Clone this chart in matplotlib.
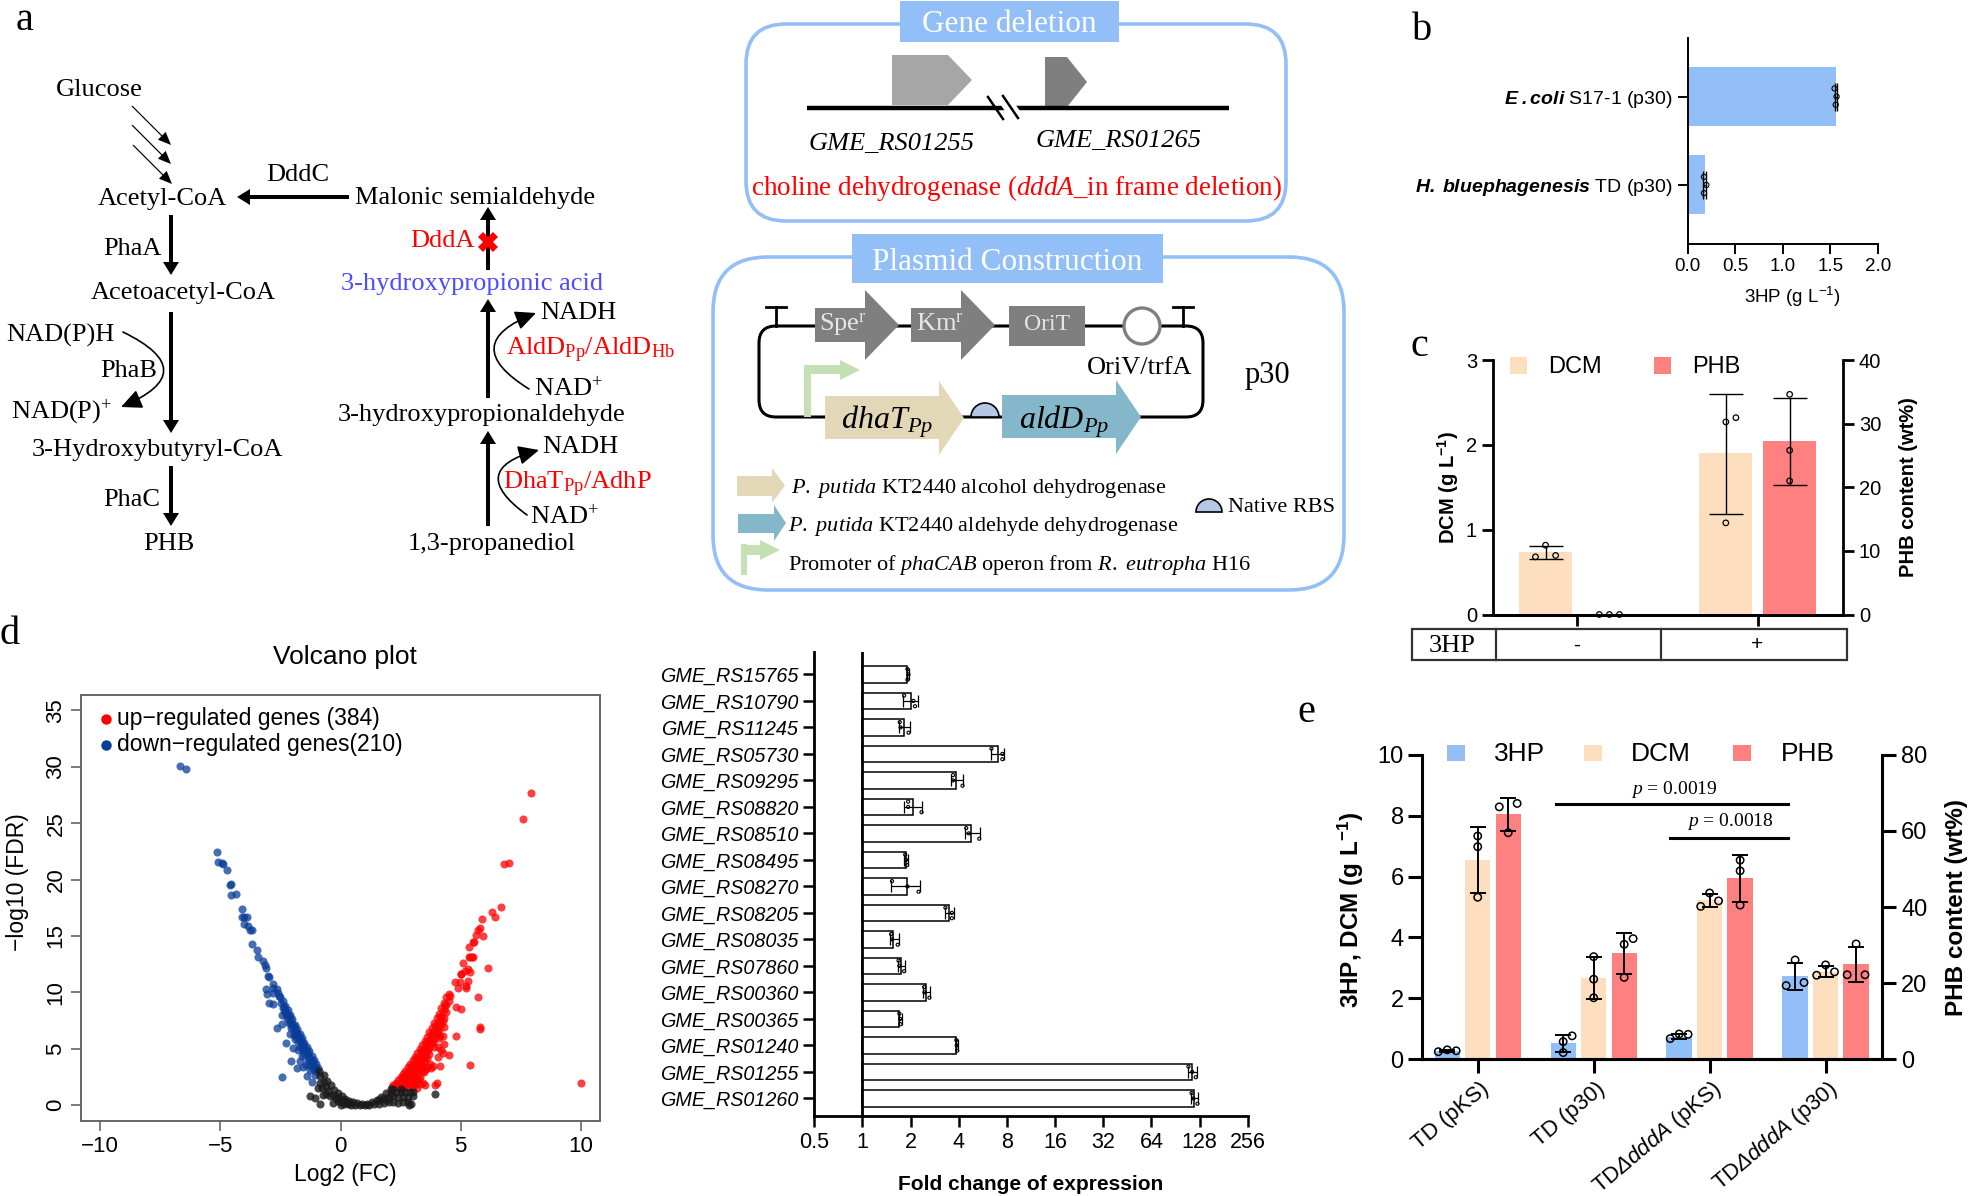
import matplotlib
matplotlib.use('Agg')
import matplotlib.pyplot as plt
from matplotlib.patches import FancyBboxPatch, Polygon, Rectangle, Wedge, Circle

plt.rcParams['font.family'] = ['Liberation Sans', 'DejaVu Sans']
plt.rcParams['mathtext.fontset'] = 'custom'
plt.rcParams['mathtext.rm'] = 'Liberation Serif'
plt.rcParams['mathtext.it'] = 'Liberation Serif:italic'
plt.rcParams['mathtext.bf'] = 'Liberation Serif:bold'
plt.rcParams['mathtext.sf'] = 'Liberation Sans:italic'
plt.rcParams['mathtext.bfit'] = 'Liberation Sans:italic:bold'
plt.rcParams['mathtext.default'] = 'regular'

W, H = 1973, 1196
BLUE = '#93bff9'
TAN = '#fddfc0'
PINK = '#ff8080'

# panel b
b_labels = [r'$\mathbfit{H.\ bluephagenesis}$ TD (p30)', r'$\mathbfit{E\ .coli}$ S17-1 (p30)']
b_means = [0.185, 1.56]
b_lo = [0.165, 1.544]
b_hi = [0.197, 1.566]
b_pts = [[0.172, 0.197, 0.172], [1.544, 1.565, 1.556]]

# panel c
c_dcm = [0.74, 1.90]
c_dcm_lo = [0.655, 1.19]
c_dcm_hi = [0.807, 2.60]
c_dcm_pts = [[(0, 0.817), (-1, 0.68), (1, 0.696)], [(0, 2.27), (1, 2.32), (0, 1.08)]]
c_phb = [0, 27.2]
c_phb_lo = [0, 20.3]
c_phb_hi = [0, 34.0]
c_phb_pts = [[(-1, 0), (0, 0), (1, 0)], [(0, 34.6), (0, 25.8), (0, 21.0)]]

# panel d, volcano (log2 FC, -log10 FDR)
down_points = [
    (-6.66, 30.07), (-6.45, 29.77), (-5.13, 22.41), (-5.08, 21.56), (-4.93, 21.47), (-4.87, 21.37),
    (-4.74, 20.88), (-4.59, 19.51), (-4.54, 19.64), (-4.54, 18.66), (-4.36, 18.73), (-4.11, 17.39),
    (-4.11, 16.71), (-4.0, 16.71), (-3.91, 16.65), (-4.03, 16.03), (-3.85, 15.9), (-3.78, 15.57),
    (-3.70, 15.54), (-3.68, 14.27), (-3.49, 13.78), (-3.42, 13.13), (-3.21, 12.74), (-3.13, 12.41),
    (-3.09, 12.18), (-3.01, 11.43), (-2.99, 11.4), (-2.80, 10.78), (-3.08, 10.29), (-2.83, 10.36),
    (-2.66, 10.29), (-3.04, 9.87), (-2.83, 9.97), (-2.6, 9.97), (-2.96, 9.02), (-2.8, 8.99),
    (-2.55, 9.64), (-2.47, 9.09), (-2.39, 8.66), (-2.32, 8.31), (-2.42, 8.01), (-2.42, 7.2),
    (-2.63, 6.81), (-2.22, 7.69), (-2.14, 7.26), (-2.04, 6.87), (-2.09, 6.3), (-2.25, 5.5),
    (-1.96, 5.08), (-1.75, 4.9), (-1.68, 3.9), (-1.80, 3.3), (-2.04, 3.94), (-2.42, 2.51),
    (-1.38, 2.6), (-1.2, 2.1), (-1.9, 5.9), (-1.6, 4.4), (-1.45, 3.6), (-1.55, 3.4),
    (-2.5, 9.6), (-2.4, 9.2), (-2.3, 8.8), (-2.2, 8.4), (-2.1, 8.0), (-2.0, 7.6), (-1.9, 7.15),
    (-1.8, 6.75), (-1.7, 6.35), (-1.6, 5.95), (-1.5, 5.55), (-1.4, 5.2), (-1.3, 4.8), (-1.2, 4.4),
    (-1.1, 4.0), (-1.0, 3.65), (-0.95, 3.3), (-2.3, 8.2), (-2.2, 7.8), (-2.1, 7.4), (-2.0, 7.0),
    (-1.9, 6.6), (-1.8, 6.2), (-1.7, 5.8), (-1.6, 5.4), (-1.5, 5.0), (-1.4, 4.6), (-1.3, 4.2),
    (-1.2, 3.8), (-1.1, 3.4), (-1.0, 3.0), (-1.9, 6.1), (-1.7, 5.2), (-1.5, 4.5), (-1.35, 3.9),
    (-1.15, 3.2), (-1.05, 2.7), (-1.25, 3.1), (-2.35, 8.7), (-2.25, 8.3), (-2.15, 7.9), (-2.05, 7.5),
    (-1.95, 7.0), (-1.85, 6.6), (-1.75, 6.2), (-1.65, 5.8), (-1.55, 5.4), (-1.45, 5.0), (-1.35, 4.6),
    (-1.25, 4.2), (-1.15, 3.8), (-1.05, 3.4), (-1.95, 6.3), (-1.75, 5.6), (-1.55, 4.9), (-1.25, 3.6),
]
up_points = [
    (7.94, 27.66), (7.59, 25.4), (6.79, 21.4), (7.01, 21.5), (6.68, 17.55), (6.30, 17.1), (6.45, 16.7),
    (5.89, 16.5), (5.79, 15.75), (5.71, 15.5), (5.62, 15.07), (5.93, 15.0), (5.51, 14.5), (5.55, 14.5),
    (5.35, 14.0), (5.35, 13.18), (5.49, 13.18), (5.1, 12.64), (5.39, 13.1), (5.51, 13.16), (5.03, 11.6),
    (5.31, 12.08), (5.39, 11.8), (6.14, 12.2), (5.72, 9.63), (5.79, 6.9), (5.80, 6.8), (4.79, 6.1),
    (5.37, 3.57), (5.03, 11.64), (5.17, 11.9), (5.32, 11.0), (4.75, 10.9), (4.96, 10.9), (4.89, 10.4),
    (5.21, 10.57), (5.24, 10.37), (4.82, 8.68), (5.03, 8.57), (10.0, 2.0),
    (4.13, 6.1), (4.27, 6.16), (4.06, 5.2), (4.31, 5.4), (4.2, 4.9), (4.27, 4.67), (4.06, 4.25),
    (4.52, 4.46), (3.71, 3.63), (3.85, 3.48), (4.16, 3.48), (3.78, 3.28), (3.46, 2.98), (3.41, 3.43),
    (3.43, 1.94), (3.92, 1.8), (4.02, 1.94),
    (2.15, 1.6), (2.2, 1.75), (2.3, 2.0), (2.4, 2.25), (2.5, 2.5), (2.6, 2.8), (2.7, 3.05), (2.8, 3.35),
    (2.9, 3.65), (3.0, 4.0), (3.1, 4.3), (3.2, 4.65), (3.3, 5.0), (3.4, 5.35), (3.5, 5.7), (3.6, 6.05),
    (3.7, 6.45), (3.8, 6.85), (3.9, 7.25), (4.0, 7.7), (4.1, 8.1), (4.2, 8.6), (4.3, 9.1), (4.4, 9.6),
    (4.5, 9.9), (4.55, 9.7), (2.4, 1.6), (2.5, 1.9), (2.6, 2.2), (2.7, 2.5), (2.8, 2.8), (2.9, 3.1),
    (3.0, 3.4), (3.1, 3.7), (3.2, 4.0), (3.3, 4.4), (3.4, 4.7), (3.5, 5.1), (3.6, 5.4), (3.7, 5.8),
    (3.8, 6.2), (3.9, 6.6), (4.0, 7.0), (4.1, 7.4), (4.2, 7.9), (4.3, 8.4), (4.4, 8.9), (4.5, 9.2),
    (2.6, 1.5), (2.7, 1.9), (2.8, 2.2), (2.9, 2.5), (3.0, 2.8), (3.1, 3.1), (3.2, 3.4), (3.3, 3.7),
    (3.4, 4.1), (3.5, 4.4), (3.6, 4.8), (3.7, 5.2), (3.8, 5.5), (3.9, 5.9), (4.0, 6.3), (4.1, 6.8),
    (4.2, 7.2), (4.3, 7.7), (4.4, 8.3), (2.8, 1.6), (2.9, 1.9), (3.0, 2.2), (3.1, 2.5), (3.2, 2.8),
    (3.3, 3.1), (3.4, 3.6), (3.5, 3.9), (3.6, 4.2), (3.7, 4.5), (3.9, 5.2), (4.1, 6.0), (4.3, 6.9),
    (3.0, 1.6), (3.1, 1.9), (3.2, 2.2), (3.3, 2.5), (3.6, 3.4), (3.2, 1.5), (3.5, 1.8), (3.3, 1.9),
    (2.35, 1.9), (2.55, 2.4), (2.75, 2.9), (2.95, 3.5), (3.15, 4.1), (3.35, 4.8), (3.55, 5.5), (3.75, 6.2),
    (3.95, 7.0), (4.15, 7.8), (4.35, 8.9), (2.65, 1.7), (2.85, 2.3), (3.05, 2.9), (3.25, 3.5), (3.45, 4.2),
    (3.65, 4.9), (3.85, 5.6), (4.05, 6.5), (4.25, 7.5), (3.05, 1.9), (3.25, 2.3), (3.45, 3.0), (3.55, 3.2),
]
ns_points = [
    (-1.25, 0.82), (-1.06, 0.65), (-0.84, 0.14), (-0.94, 1.5), (-0.73, 0.9), (-0.31, 0.17), (0.0, 0.02),
    (3.92, 1.0), (-0.9, 3.0), (-0.85, 2.6), (-0.7, 2.65), (-0.55, 2.15), (-0.4, 1.75), (-0.25, 1.35),
    (-0.1, 1.05), (0.05, 0.8), (0.2, 0.55), (0.35, 0.4), (0.5, 0.28), (0.7, 0.17), (0.9, 0.12), (1.1, 0.15),
    (1.3, 0.25), (1.5, 0.42), (1.7, 0.7), (1.9, 1.1), (2.1, 1.45), (-0.85, 2.0), (-0.7, 2.1), (-0.75, 1.5),
    (-0.6, 1.6), (-0.5, 1.3), (-0.6, 1.0), (-0.45, 0.8), (-0.3, 0.9), (-0.2, 0.6), (-0.1, 0.4), (0.0, 0.3),
    (0.15, 0.15), (0.3, 0.1), (0.45, 0.05), (0.6, 0.05), (0.8, 0.02), (1.0, 0.02), (1.2, 0.03), (1.4, 0.1),
    (1.6, 0.15), (1.8, 0.2), (2.0, 0.25), (2.2, 0.3), (2.4, 0.2), (2.6, 0.25), (2.8, 0.3), (2.95, 0.15),
    (1.6, 0.5), (1.8, 0.6), (2.0, 0.75), (2.2, 0.8), (2.4, 0.7), (2.6, 0.7), (2.8, 0.75), (3.0, 0.8),
    (2.1, 1.1), (2.3, 1.2), (2.5, 1.15), (2.7, 1.15), (2.9, 1.15), (3.0, 1.2), (2.2, 1.4), (2.5, 1.4),
    (-0.1, 0.75), (0.1, 0.45), (0.25, 0.3), (0.4, 0.2), (1.9, 0.5), (2.85, 0.05),
]
volcano_xticks = [-10, -5, 0, 5, 10]
volcano_yticks = [0, 5, 10, 15, 20, 25, 30, 35]

# panel d, fold change bars
genes = ['GME_RS15765', 'GME_RS10790', 'GME_RS11245', 'GME_RS05730', 'GME_RS09295', 'GME_RS08820',
         'GME_RS08510', 'GME_RS08495', 'GME_RS08270', 'GME_RS08205', 'GME_RS08035', 'GME_RS07860',
         'GME_RS00360', 'GME_RS00365', 'GME_RS01240', 'GME_RS01255', 'GME_RS01260']
fold = [1.91, 2.0, 1.81, 7.07, 3.82, 2.06, 4.8, 1.86, 1.89, 3.49, 1.56, 1.73, 2.49, 1.70, 3.86, 115, 118]
fold_lo = [1.89, 1.80, 1.69, 6.32, 3.58, 1.83, 4.40, 1.83, 1.51, 3.26, 1.49, 1.66, 2.39, 1.68, 3.84, 108, 113]
fold_hi = [1.95, 2.21, 1.98, 7.68, 4.27, 2.36, 5.43, 1.92, 2.28, 3.71, 1.69, 1.85, 2.65, 1.76, 3.93, 124, 124.6]
fold_pts = [
    [1.91, 1.94, 1.91], [1.82, 2.08, 2.13], [1.71, 1.73, 1.94], [6.40, 7.49, 7.49], [3.68, 3.68, 4.22],
    [1.93, 1.93, 2.34], [4.45, 4.61, 5.37], [1.85, 1.87, 1.90], [1.53, 1.91, 2.24], [3.30, 3.62, 3.62],
    [1.51, 1.53, 1.66], [1.68, 1.70, 1.82], [2.43, 2.44, 2.62], [1.70, 1.72, 1.73], [3.86, 3.88, 3.91],
    [109, 115, 121], [114, 117, 124],
]
fold_ticks = [0.5, 1, 2, 4, 8, 16, 32, 64, 128, 256]
fold_ticklabels = ['0.5', '1', '2', '4', '8', '16', '32', '64', '128', '256']

# panel e
e_labels = ['TD (pKS)', 'TD (p30)', r'TD$\mathsf{Δ dddA}$ (pKS)', r'TD$\mathsf{Δ dddA}$ (p30)']
e_hp = [0.26, 0.525, 0.74, 2.74]
e_hp_lo = [0.24, 0.25, 0.68, 2.28]
e_hp_hi = [0.32, 0.81, 0.83, 3.17]
e_hp_pts = [[(-1, 0.25), (0, 0.31), (1, 0.28)], [(0, 0.22), (0, 0.58), (1, 0.77)],
            [(-1, 0.68), (0, 0.83), (1, 0.82)], [(0, 3.26), (-1, 2.42), (1, 2.52)]]
e_dcm = [6.54, 2.68, 5.23, 2.85]
e_dcm_lo = [5.47, 1.97, 5.01, 2.71]
e_dcm_hi = [7.61, 3.36, 5.44, 3.07]
e_dcm_pts = [[(0, 7.33), (0, 6.98), (0, 5.32)], [(0, 3.37), (0, 2.63), (0, 2.02)],
             [(-1, 5.02), (0, 5.46), (1, 5.2)], [(0, 3.10), (-1, 2.76), (1, 2.87)]]
e_phb = [64.3, 27.8, 47.5, 25.0]
e_phb_lo = [60.0, 22.4, 41.4, 20.2]
e_phb_hi = [68.6, 33.3, 53.6, 29.6]
e_phb_pts = [[(-1, 66.3), (1, 67.2), (0, 59.5)], [(0, 30.2), (1, 31.7), (0, 21.5)],
             [(0, 52.3), (0, 49.5), (0, 40.5)], [(0, 30.3), (-1, 22.2), (1, 22.2)]]


def px_axes(left, top, right, bottom):
    ax = fig.add_axes([left / W, 1 - bottom / H, (right - left) / W, (bottom - top) / H])
    ax.set_facecolor('none')
    return ax


def st(x, y, s, size=19, color='black', ha='center', **kw):
    # serif text placed in pixels on the overlay
    ov.text(x, y + 2, s, fontsize=size, color=color, ha=ha, va='center', family='Liberation Serif', **kw)


def ss(x, y, s, size=15, ha='center', **kw):
    ov.text(x, y + 1, s, fontsize=size, ha=ha, va='center', **kw)


def thick(x0, y0, x1, y1, width=4, hw=16, hl=13):
    ov.arrow(x0, y0, x1 - x0, y1 - y0, width=width, head_width=hw, head_length=hl,
             length_includes_head=True, color='black', lw=0)


def curved(x0, y0, x1, y1, rad):
    ov.annotate('', xy=(x1, y1), xytext=(x0, y0),
                arrowprops=dict(arrowstyle='-|>,head_length=0.9,head_width=0.42', color='black', lw=1.2,
                                mutation_scale=14, shrinkA=0, shrinkB=0,
                                connectionstyle=f'arc3,rad={rad}'))


def block(x0, xs, xt, b0, b1, h0, h1, color):
    mid = (h0 + h1) / 2
    ov.add_patch(Polygon([(x0, b0), (xs, b0), (xs, h0), (xt, mid), (xs, h1), (xs, b1), (x0, b1)],
                         closed=True, fc=color, ec='none'))


fig = plt.figure(figsize=(W / 100, H / 100), dpi=100)
ov = fig.add_axes([0, 0, 1, 1])
ov.set_xlim(0, W)
ov.set_ylim(H, 0)
ov.axis('off')

# panel letters
st(25, 19, 'a', 29)
st(1422, 28, 'b', 29)
st(1419, 344, 'c', 29)
st(10, 633, 'd', 29)
st(1306, 711, 'e', 29)

# pathway
st(99, 88, 'Glucose')
st(162, 197, 'Acetyl-CoA')
st(298, 173, 'DddC')
st(475, 196, 'Malonic semialdehyde')
st(132, 247, 'PhaA')
st(183, 291, 'Acetoacetyl-CoA')
st(60, 333, 'NAD(P)H')
st(129, 369, 'PhaB')
st(62, 410, 'NAD(P)$^{+}$')
st(157, 448, '3-Hydroxybutyryl-CoA')
st(132, 498, 'PhaC')
st(169, 542, 'PHB')
st(442, 239, 'DddA', color='#ff0000')
st(472, 282, '3-hydroxypropionic acid', color='#4b4bff')
st(578, 311, 'NADH')
st(590, 348, 'AldD$_{Pp}$/AldD$_{Hb}$', color='#ff0000')
st(568, 387, 'NAD$^{+}$')
st(482, 413, '3-hydroxypropionaldehyde')
st(580, 445, 'NADH')
st(577, 482, 'DhaT$_{Pp}$/AdhP', color='#ff0000')
st(564, 515, 'NAD$^{+}$')
st(492, 542, '1,3-propanediol')

thick(171, 215, 171, 275)
thick(171, 312, 171, 433)
thick(171, 466, 171, 526)
thick(349, 197, 237, 197)
thick(488, 270, 488, 207)
thick(488, 398, 488, 299)
thick(488, 526, 488, 431)
thick(132, 106, 171, 145, 1.2, 11, 13)
thick(132, 125, 171, 164, 1.2, 11, 13)
thick(133, 145, 172, 184, 1.2, 11, 13)
curved(123, 332, 121, 407, -1.1)
curved(529, 389, 536, 313, -1.0)
curved(527, 515, 539, 450, -1.05)
ov.plot([488], [242], marker='X', color='#ff0000', ms=14, mew=0)

# gene deletion box
ov.add_patch(FancyBboxPatch((746, 24), 540, 197, boxstyle='round,pad=0,rounding_size=40',
                            fc='white', ec=BLUE, lw=2.6))
ov.add_patch(Rectangle((900, 1), 219, 41, fc=BLUE, ec='none'))
st(1009, 23, 'Gene deletion', 22.5, color='white')
block(892, 948, 972, 55, 105, 55, 105, '#a6a6a6')
block(1045, 1067, 1087, 57, 107, 57, 107, '#7f7f7f')
ov.plot([807, 1229], [108, 108], color='black', lw=3.2, solid_capstyle='butt')
ov.add_patch(Polygon([(995, 97), (1010, 97), (1025, 118), (1010, 118)], fc='white', ec='none', zorder=3))
ov.plot([988, 1003], [97, 119], color='black', lw=1.8, zorder=4)
ov.plot([1003, 1018], [96, 118], color='black', lw=1.8, zorder=4)
st(892, 142, 'GME_RS01255', style='italic')
st(1119, 139, 'GME_RS01265', style='italic')
st(1016, 186, r'choline dehydrogenase ($\mathit{dddA}$_in frame deletion)', 19.5, color='#ff0000')

# plasmid box
ov.add_patch(FancyBboxPatch((713, 257), 631, 333, boxstyle='round,pad=0,rounding_size=55',
                            fc='white', ec=BLUE, lw=2.6))
ov.add_patch(Rectangle((852, 234), 311, 49, fc=BLUE, ec='none'))
st(1007, 260, 'Plasmid Construction', 22.5, color='white')
ov.add_patch(FancyBboxPatch((759, 326), 444, 91, boxstyle='round,pad=0,rounding_size=17',
                            fc='none', ec='black', lw=2.2))
for tx in [776, 1183]:
    ov.plot([tx, tx], [307, 326], color='black', lw=2)
    ov.plot([tx - 10, tx + 10], [307, 307], color='black', lw=2)
block(815, 865, 899, 308, 342, 290, 360, '#7f7f7f')
block(911, 961, 995, 308, 342, 290, 360, '#7f7f7f')
ov.add_patch(Rectangle((1009, 306), 76, 40, fc='#7f7f7f', ec='none'))
ov.add_patch(Circle((1142, 326), 18, fc='white', ec='#7f7f7f', lw=2.4))
st(843, 323, 'Spe$^{r}$', 19, color='#e6e6e6')
st(940, 323, 'Km$^{r}$', 19, color='#e6e6e6')
st(1047, 323, 'OriT', 17, color='#e6e6e6')
st(1140, 366, 'OriV/trfA')
st(1267, 373, 'p30', 22)
ov.add_patch(Rectangle((804, 365), 7, 52, fc='#c5e0b4', ec='none'))
block(804, 840, 860, 365, 374, 360, 380, '#c5e0b4')
block(825, 939, 964, 396, 439, 381, 455, '#e2d8b8')
block(1002, 1116, 1141, 395, 438, 380, 454, '#84b7ca')
ov.add_patch(Wedge((985, 417), 14, 180, 360, fc='#b4c7e7', ec='black', lw=1.2))
st(887, 420, 'dhaT$_{Pp}$', 23, style='italic')
st(1064, 420, 'aldD$_{Pp}$', 23, style='italic')
block(737, 772, 785, 476, 496, 468, 503, '#e2d8b8')
block(738, 774, 786, 514, 533, 505, 541, '#84b7ca')
ov.add_patch(Rectangle((741, 544), 6, 31, fc='#c5e0b4', ec='none'))
block(741, 760, 780, 545, 555, 540, 560, '#c5e0b4')
st(791, 487, r'$\mathit{P.\ putida}$ KT2440 alcohol dehydrogenase', 16, ha='left')
st(788, 524, r'$\mathit{P.\ putida}$ KT2440 aldehyde dehydrogenase', 16, ha='left')
st(788, 563, r'Promoter of $\mathit{phaCAB}$ operon from $\mathit{R.\ eutropha}$ H16', 16, ha='left')
ov.add_patch(Wedge((1209, 512), 13, 180, 360, fc='#b4c7e7', ec='black', lw=1.2))
st(1228, 506, 'Native RBS', 16, ha='left')

# panel b
ax = px_axes(1687.6, 37.6, 1878, 243.6)
ax.barh([0, 1], b_means, height=0.667, color=BLUE)
ax.errorbar(b_means, [0, 1], xerr=[[m - l for m, l in zip(b_means, b_lo)], [h - m for m, h in zip(b_means, b_hi)]],
            fmt='none', ecolor='black', elinewidth=1, capsize=10, capthick=1)
for i, vals in enumerate(b_pts):
    ax.scatter(vals, [i + 0.092, i, i - 0.092], s=14, facecolors='none', edgecolors='black', linewidths=0.8, zorder=3)
ax.set_xlim(0, 2)
ax.set_ylim(-0.663, 1.667)
ax.set_xticks([0, 0.5, 1, 1.5, 2])
ax.set_xticklabels(['0.0', '0.5', '1.0', '1.5', '2.0'], fontsize=13.5)
ax.set_yticks([0, 1])
ax.set_yticklabels(b_labels, fontsize=14)
ax.tick_params(length=7, width=1.4)
for s in ['top', 'right']:
    ax.spines[s].set_visible(False)
for s in ['left', 'bottom']:
    ax.spines[s].set_linewidth(1.4)
ss(1792, 296, '3HP (g L$^{-1}$)', 13.5)

# panel c
ax = px_axes(1493, 360, 1843, 614.5)
ax2 = ax.twinx()
ax2.set_facecolor('none')
off, jit = 0.177, 0.056
for i in range(2):
    ax.bar(i - off, c_dcm[i], width=0.295, color=TAN)
    ax.errorbar(i - off, c_dcm[i], yerr=[[c_dcm[i] - c_dcm_lo[i]], [c_dcm_hi[i] - c_dcm[i]]],
                fmt='none', ecolor='black', elinewidth=1, capsize=12, capthick=1)
    for dx, v in c_dcm_pts[i]:
        ax.scatter(i - off + dx * jit, v, s=16, facecolors='none', edgecolors='black', linewidths=0.9, zorder=3, clip_on=False)
    ax2.bar(i + off, c_phb[i], width=0.295, color=PINK)
    if c_phb[i] > 0:
        ax2.errorbar(i + off, c_phb[i], yerr=[[c_phb[i] - c_phb_lo[i]], [c_phb_hi[i] - c_phb[i]]],
                     fmt='none', ecolor='black', elinewidth=1, capsize=12, capthick=1)
    for dx, v in c_phb_pts[i]:
        ax2.scatter(i + off + dx * jit, v, s=16, facecolors='none', edgecolors='black', linewidths=0.9, zorder=3, clip_on=False)
ax.set_xlim(-0.4685, 1.473)
ax.set_ylim(0, 3)
ax2.set_ylim(0, 40)
ax.set_xticks([0, 1])
ax.set_xticklabels([])
ax.set_yticks([0, 1, 2, 3])
ax2.set_yticks([0, 10, 20, 30, 40])
for a in [ax, ax2]:
    a.tick_params(length=8, width=2, labelsize=14.5)
    a.spines['top'].set_visible(False)
    for s in ['left', 'right', 'bottom']:
        a.spines[s].set_linewidth(2)
ax.spines['right'].set_visible(False)
ax2.spines['left'].set_visible(False)
ov.add_patch(Rectangle((1510, 357), 17, 17, fc=TAN, ec='none'))
ss(1548, 366, 'DCM', 17, ha='left')
ov.add_patch(Rectangle((1654, 357), 17, 17, fc=PINK, ec='none'))
ss(1692, 366, 'PHB', 17, ha='left')
ss(1448, 487, 'DCM (g L$^{-1}$)', 14.5, rotation=90, fontweight='bold')
ss(1909, 486, 'PHB content (wt%)', 14.5, rotation=90, fontweight='bold')
ov.add_patch(Rectangle((1412, 629), 435, 31, fc='none', ec='#333333', lw=1.6))
ov.plot([1496, 1496], [629, 660], color='#333333', lw=1.6)
ov.plot([1661, 1661], [629, 660], color='#333333', lw=1.6)
st(1452, 644, '3HP', 19)
ss(1577, 644, '-', 15)
ss(1757, 644, '+', 15)

# panel d, volcano
ax = px_axes(81, 694.6, 600, 1121)
for pts, col, al in [(down_points, '#0a3d99', 0.75), (up_points, '#ff0000', 0.75), (ns_points, '#1a1a1a', 0.8)]:
    ax.scatter([p[0] for p in pts], [p[1] for p in pts], s=34, color=col, alpha=al, linewidths=0)
ax.set_xlim(-10.8, 10.8)
ax.set_ylim(-1.4, 36.4)
ax.set_xticks(volcano_xticks)
ax.set_xticklabels(['\u221210', '\u22125', '0', '5', '10'], fontsize=16)
ax.set_yticks(volcano_yticks)
ax.set_yticklabels([str(t) for t in volcano_yticks], fontsize=16, rotation=90, va='center')
ax.tick_params(length=7, width=1.2, color='#666666')
for s in ax.spines.values():
    s.set_color('#666666')
    s.set_linewidth(1.4)
ov.plot([106], [719], 'o', color='#ff0000', ms=7.5, mew=0)
ov.plot([106], [745], 'o', color='#0a3d99', ms=7.5, mew=0)
ss(117, 718, 'up\u2212regulated genes (384)', 16.5, ha='left')
ss(117, 744, 'down\u2212regulated genes(210)', 16.5, ha='left')
ss(345, 656, 'Volcano plot', 19)
ss(345, 1174, 'Log2 (FC)', 16.5)
ss(18, 881, '\u2212log10 (FDR)', 16.5, rotation=90)

# panel d, fold change
ax = px_axes(814.3, 652.4, 1247.8, 1115.9)
ys = list(range(len(genes)))
ax.barh(ys, [f - 1 for f in fold], left=1, height=0.63, fc='white', ec='black', lw=1.1)
ax.errorbar(fold, ys, xerr=[[f - l for f, l in zip(fold, fold_lo)], [h - f for f, h in zip(fold, fold_hi)]],
            fmt='none', ecolor='black', elinewidth=0.9, capsize=4, capthick=0.9)
for i, vals in enumerate(fold_pts):
    ax.scatter(vals, [i - 0.2, i, i + 0.2], s=5, facecolors='none', edgecolors='black', linewidths=0.8, zorder=3)
ax.set_xscale('log', base=2)
ax.set_xlim(0.5, 256)
ax.set_ylim(16.66, -0.83)
ax.set_xticks(fold_ticks)
ax.set_xticklabels(fold_ticklabels, fontsize=15.5)
ax.minorticks_off()
ax.set_yticks(ys)
ax.set_yticklabels(genes, fontsize=14.2, style='italic')
ax.axvline(1, color='black', lw=2)
ax.tick_params(length=8, width=1.8)
for s in ['top', 'right']:
    ax.spines[s].set_visible(False)
for s in ['left', 'bottom']:
    ax.spines[s].set_linewidth(2)
ss(1031, 1183, 'Fold change of expression', 15, fontweight='bold')

# panel e
ax = px_axes(1422.4, 754.7, 1882.3, 1059.3)
ax2 = ax.twinx()
ax2.set_facecolor('none')
off, jit, w = 0.263, 0.077, 0.218
for i in range(4):
    for shift, m, lo, hi, pts, col, a in [(-off, e_hp, e_hp_lo, e_hp_hi, e_hp_pts, BLUE, ax),
                                          (0, e_dcm, e_dcm_lo, e_dcm_hi, e_dcm_pts, TAN, ax),
                                          (off, e_phb, e_phb_lo, e_phb_hi, e_phb_pts, PINK, ax2)]:
        a.bar(i + shift, m[i], width=w, color=col)
        a.errorbar(i + shift, m[i], yerr=[[m[i] - lo[i]], [hi[i] - m[i]]],
                   fmt='none', ecolor='black', elinewidth=1.4, capsize=6, capthick=1.4)
        for dx, v in pts[i]:
            a.scatter(i + shift + dx * jit, v, s=28, facecolors='none', edgecolors='black', linewidths=1.1, zorder=3)
ax.set_xlim(-0.477, 3.489)
ax.set_ylim(0, 10)
ax2.set_ylim(0, 80)
ax.set_xticks(range(4))
ax.set_xticklabels([])
# tick labels sit lower and further right than the tick pad allows
for i, lab in enumerate(e_labels):
    ax.annotate(lab, xy=(i, 0), xycoords=('data', 'axes fraction'), xytext=(6.5, -19.5),
                textcoords='offset points', rotation=40, ha='right', va='center',
                rotation_mode='anchor', fontsize=16, annotation_clip=False)
ax.set_yticks([0, 2, 4, 6, 8, 10])
ax2.set_yticks([0, 20, 40, 60, 80])
for a in [ax, ax2]:
    a.tick_params(length=10, width=2.2, labelsize=17)
    a.spines['top'].set_visible(False)
    for s in ['left', 'right', 'bottom']:
        a.spines[s].set_linewidth(2.2)
ax.spines['right'].set_visible(False)
ax2.spines['left'].set_visible(False)
for x0, x1, name in [(1447, 1494, '3HP'), (1584, 1631, 'DCM'), (1733, 1781, 'PHB')]:
    ov.add_patch(Rectangle((x0, 745), 18, 16, fc={'3HP': BLUE, 'DCM': TAN, 'PHB': PINK}[name], ec='none'))
    ss(x1, 753, name, 19, ha='left')
ss(1351, 909, '3HP, DCM (g L$^{-1}$)', 17.5, rotation=90, fontweight='bold')
ss(1956, 907, 'PHB content (wt%)', 17.5, rotation=90, fontweight='bold')
ov.plot([1556, 1788], [804, 804], color='black', lw=2.2)
ov.plot([1670, 1788], [838, 838], color='black', lw=2.2)
st(1674, 788, r'$\mathit{p}$ = 0.0019', 14)
st(1730, 820, r'$\mathit{p}$ = 0.0018', 14)

fig.savefig('out.png', dpi=100)
